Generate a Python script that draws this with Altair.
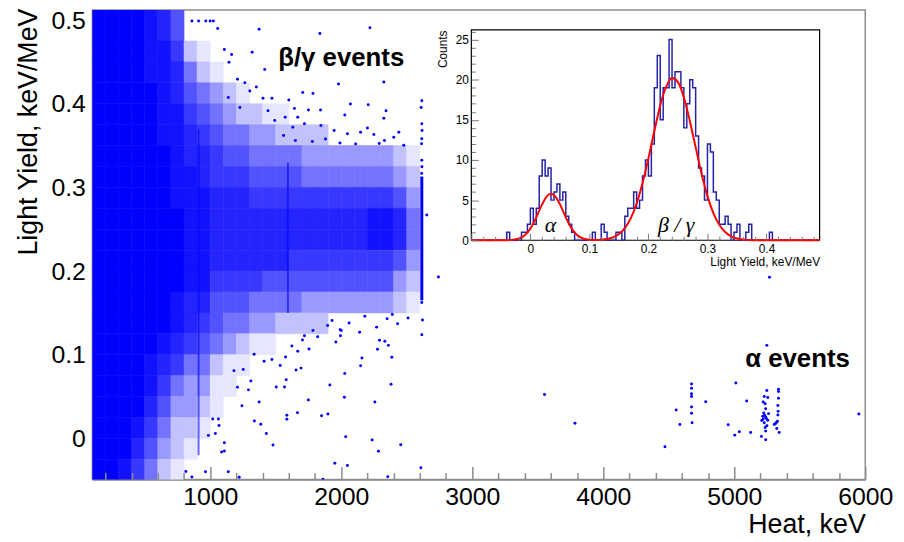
import altair as alt
import pandas as pd

FONT = "Liberation Sans"
BLUE = "#0000ff"

# ---------------- main plot axes ----------------
heat_domain = [100, 6000]
ly_domain = [-0.049, 0.512]
heat_major = [1000, 2000, 3000, 4000, 5000, 6000]
heat_minor = [v for v in range(200, 6000, 200) if v % 1000 != 0]
ly_ticks = [0, 0.1, 0.2, 0.3, 0.4, 0.5]

# ---------------- dense beta/gamma cloud: coverage level (0-9) read per cell ----------------
heat_edges = list(range(100, 2800, 100))  # 27 edges, 26 columns
ly_edges = [-0.05, -0.025, 0.0, 0.025, 0.05, 0.075, 0.1, 0.125, 0.15, 0.175, 0.2,
            0.225, 0.25, 0.275, 0.3, 0.325, 0.35, 0.375, 0.4, 0.425, 0.45, 0.475, 0.52]
density_rows = [  # top (0.475-0.52) to bottom (-0.05 to -0.025)
    "9999875",
    "999988621",
    "9999887421",
    "999998754321",
    "999998865432211",
    "999998876544332222",
    "99999987765544443333333210",
    "99999988766655554444444320",
    "99999988877766666666666530",
    "99999998877777777777788740",
    "99999998877777777777788740",
    "99999998877777766666666530",
    "99999998866665555555555320",
    "99999987755544443333333210",
    "999999876544332222",
    "99999876543211",
    "999987644211",
    "99998643311",
    "9999753321",
    "999864221",
    "99975321",
    "9986421",
]
# fraction of the cell covered by dots for each level
level_cover = [0.0, 0.10, 0.24, 0.40, 0.55, 0.68, 0.78, 0.86, 0.93, 1.0]

# ---------------- isolated events (Heat keV, Light Yield keV/MeV) ----------------
sparse_heat = [1335, 1411, 1471, 1534, 1575, 1580, 1567, 1504, 1655, 1693, 1623, 1668, 1754, 1704,
               1719, 1784, 1820, 1896, 1959, 1994, 1992, 2027, 1913, 2024, 2158, 2148, 2277, 2292,
               2333, 2360, 2386, 2380, 2257, 1749, 1666, 1585, 1585, 1850, 1898, 2034, 2236, 2284,
               2454, 1951, 2047, 1860, 2355, 2608, 1479, 1428, 1386, 1337, 1373, 1310, 1292, 1242,
               1208, 1252, 1181, 1221, 1138, 964, 860, 814, 1108, 1087, 1108, 1039, 986, 1067, 1062,
               1019,
               860, 911, 966, 999, 1024, 1057, 1373, 1837, 2219, 1320, 1108, 1163, 1143, 1416, 1979,
               2325, 1706, 1784, 1600, 1643, 1749, 1842, 2070, 2206, 2027, 2342, 2325, 1572, 1668,
               1208, 1264, 1302, 1352, 1403, 1471, 1138, 1226, 1441, 1492, 1630, 1719, 1845, 1946,
               2047, 2148, 2249, 2401, 2477, 1560, 1780, 1880, 2110, 2200, 2330, 2440, 1650, 1990,
               2290, 1930, 2060, 2180, 2270, 2350, 2430, 2510, 2000, 2140, 2390,
               2615, 2610, 2615, 2617, 2615, 2613, 2615, 2616, 2614, 2615, 2620, 2615, 2653, 2742]
sparse_ly = [0.1006, 0.0923, 0.0943, 0.0872, 0.0974, 0.0702, 0.0615, 0.0615, 0.0817, 0.084, 0.1104,
             0.1041, 0.1069, 0.1175, 0.1227, 0.129, 0.1215, 0.1349, 0.1152, 0.1227, 0.1298, 0.0777,
             0.0639, 0.0493, 0.0962, 0.0868, 0.1065, 0.1172, 0.116, 0.1112, 0.097, 0.0647, 0.0434,
             0.0458, 0.0308, 0.0276, 0.0229, 0.0272, 0.0292, 0.002, -0.002, -0.0154, -0.0075,
             -0.0296, -0.0323, -0.0489, -0.0458, -0.0351, -0.0079, 0.0059, 0.0169, 0.0209, 0.0434,
             0.0686, 0.058, 0.039, 0.0612, 0.0825, 0.0808, -0.0465, -0.0399, -0.0399, -0.0462,
             -0.0395, -0.015, -0.0162, -0.0051, 0.0059, 0.0036, 0.0154, 0.0233, 0.0233,
             0.499, 0.499, 0.499, 0.499, 0.499, 0.490, 0.489, 0.484, 0.491, 0.4615, 0.465, 0.4588,
             0.4497, 0.441, 0.4237, 0.426, 0.4134, 0.4122, 0.4044, 0.3945, 0.3925, 0.3925, 0.3996,
             0.3988, 0.3866, 0.3917, 0.3826, 0.3838, 0.3838, 0.4292, 0.4252, 0.4154, 0.4201,
             0.4067, 0.4067, 0.4075, 0.3956, 0.3917, 0.3799, 0.372, 0.376, 0.374, 0.368, 0.3641,
             0.366, 0.3633, 0.3601, 0.3503, 0.362, 0.355, 0.358, 0.352, 0.371, 0.356, 0.366, 0.356,
             0.353, 0.3525, 0.141, 0.138, 0.146, 0.133, 0.143, 0.137, 0.144, 0.129, 0.127, 0.148,
             0.4036, 0.3956, 0.376, 0.368, 0.3582, 0.3523, 0.3325, 0.3246, 0.3168, 0.1625, 0.1416,
             0.1239, 0.267, 0.1929]

alpha_heat = [3552, 3784, 4471, 4557, 4585, 4674, 4674, 4674, 4674, 4674, 4674, 4678, 4782, 5012,
              4954, 5004, 5039, 5095, 5125, 5249, 5229, 5256, 5221, 5236, 5240, 5225, 5232, 5218,
              5240, 5221, 5245, 5210, 5256, 5229, 5249, 5236, 5240, 5207, 5240, 5262, 5338, 5338,
              5338, 5333, 5335, 5333, 5330, 5322, 5314, 5305, 5325, 5343, 5951, 5269, 5249]
alpha_ly = [0.0525, 0.0181, -0.0099, 0.034, 0.0166, 0.0651, 0.06, 0.0533, 0.0501, 0.0375, 0.030,
            0.0186, 0.0438, 0.0663, 0.0162, 0.0039, 0.0079, 0.0446, 0.0071, 0.0572, 0.0501, 0.0489,
            0.0434, 0.0414, 0.0355, 0.0304, 0.0276, 0.0264, 0.0256, 0.0233, 0.0237, 0.0213, 0.0217,
            0.0186, 0.015, 0.013, 0.0087, 0.0024, -0.0016, 0.0296, 0.0588, 0.056, 0.0481, 0.0394,
            0.0323, 0.028, 0.0205, 0.0189, 0.0174, 0.0166, 0.0118, 0.0071, 0.0292, 0.1925, 0.1112]

# gamma lines seen as vertical stripes
line_heat = [911, 1593]
line_lo = [-0.02, 0.15]
line_hi = [0.37, 0.33]
tl_heat = [2615]
tl_lo = [0.165]
tl_hi = [0.313]

ann_text = ["β/γ events", "α events"]
ann_heat = [2000, 5483]
ann_ly = [0.4545, 0.095]

# ---------------- inset histogram ----------------
inset_x_domain = [-0.1, 0.49]
inset_y_domain = [0, 26.2]
bin_width = 0.005
hist_first = -0.04
hist_counts = [1, 0, 0, 0, 0, 1, 1, 2,            # -0.040 .. -0.005
               4, 2, 4, 8, 10, 8, 9, 5, 6, 7, 5, 6, 3, 2, 1,   # 0.000 .. 0.070
               0, 0, 0, 0, 0, 0, 1, 0, 0, 2, 1, 0, 0, 0, 1, 1, 0,   # 0.075 .. 0.155
               3, 4, 4, 6, 4, 5, 8, 10, 8, 12,    # 0.160 .. 0.205
               19, 23, 15, 19, 19, 25, 19, 21, 21, 19, 14, 17, 20, 19, 13, 9, 8, 5,  # 0.210 .. 0.295
               12, 11, 6, 5, 2, 2, 3, 2, 0, 1, 2, 0, 0, 1, 2, 0, 0, 0, 0, 0, 0, 1]  # 0.300 .. 0.405
fit_ly = [-0.1, -0.05, -0.04, -0.03, -0.02, -0.01, 0.0, 0.01, 0.02, 0.03, 0.035, 0.04, 0.05, 0.06,
          0.07, 0.08, 0.09, 0.10, 0.11, 0.12, 0.13, 0.14, 0.15, 0.16, 0.17, 0.18, 0.19, 0.20, 0.21,
          0.22, 0.23, 0.24, 0.25, 0.26, 0.27, 0.28, 0.29, 0.30, 0.31, 0.32, 0.33, 0.34, 0.35, 0.36,
          0.37, 0.38, 0.40, 0.49]
fit_counts = [0, 0, 0.01, 0.05, 0.19, 0.58, 1.45, 2.85, 4.5, 5.64, 5.8, 5.64, 4.5, 2.85, 1.45,
              0.58, 0.19, 0.06, 0.03, 0.07, 0.16, 0.37, 0.77, 1.51, 2.73, 4.58, 7.12, 10.2, 13.6,
              16.8, 19.1, 20.2, 19.7, 17.8, 14.9, 11.6, 8.3, 5.5, 3.39, 1.93, 1.02, 0.5, 0.22, 0.09,
              0.04, 0.01, 0, 0]
inset_labels = ["α", "β / γ"]
inset_label_ly = [0.034, 0.247]
inset_label_n = [1.9, 1.9]
inset_x_major = [-0.1, 0, 0.1, 0.2, 0.3, 0.4]
inset_x_labels = [0, 0.1, 0.2, 0.3, 0.4]
inset_x_minor = [round(-0.1 + 0.02 * i, 3) for i in range(30) if i % 5 != 0]
inset_y_major = [0, 5, 10, 15, 20, 25]
inset_y_minor = [v for v in range(1, 27) if v % 5 != 0]

# ---------------- tables ----------------
cells = []
nrows = len(density_rows)
for r, s in enumerate(density_rows):
    s = (s + "0" * 26)[:26]
    lo, hi = ly_edges[nrows - 1 - r], ly_edges[nrows - r]
    for c, ch in enumerate(s):
        lvl = int(ch)
        if lvl:
            cells.append(dict(h0=heat_edges[c], h1=heat_edges[c + 1], l0=lo, l1=hi, level=lvl))
cells_df = pd.DataFrame(cells)
pts_df = pd.DataFrame({"heat": sparse_heat + alpha_heat, "ly": sparse_ly + alpha_ly})
lines_df = pd.DataFrame({"heat": line_heat, "lo": line_lo, "hi": line_hi})
tl_df = pd.DataFrame({"heat": tl_heat, "lo": tl_lo, "hi": tl_hi})
ann_df = pd.DataFrame({"t": ann_text, "heat": ann_heat, "ly": ann_ly})

n_all = int(round((inset_x_domain[1] - inset_x_domain[0]) / bin_width))
edges = [round(inset_x_domain[0] + i * bin_width, 4) for i in range(n_all + 1)]
first_i = int(round((hist_first - inset_x_domain[0]) / bin_width))
counts = [0] * (n_all + 1)
for k, v in enumerate(hist_counts):
    counts[first_i + k] = v
hist_df = pd.DataFrame({"edge": edges, "n": counts})
fit_df = pd.DataFrame({"ly": fit_ly, "n": fit_counts})
frame_df = pd.DataFrame({"x0": [inset_x_domain[0]], "x1": [inset_x_domain[1]],
                         "y0": [inset_y_domain[0]], "y1": [inset_y_domain[1]]})
ilab_df = pd.DataFrame({"t": inset_labels, "ly": inset_label_ly, "n": inset_label_n})


def mix(c):
    v = int(round(255 * (1 - c)))
    return "#%02x%02xff" % (v, v)


lvl_colors = [mix(c) for c in level_cover]

# ---------------- geometry ----------------
W, H = 779, 473
IX0, IX1 = 382, 733   # inset frame, px from plot left
IY0, IY1 = 20, 232    # inset frame, px from plot top

main_x = alt.Scale(domain=heat_domain, nice=False, zero=False)
main_y = alt.Scale(domain=ly_domain, nice=False, zero=False)
ins_x = alt.Scale(domain=inset_x_domain, range=[IX0, IX1], nice=False, zero=False)
ins_y = alt.Scale(domain=inset_y_domain, range=[IY1, IY0], nice=False, zero=False)

ax_main_x = alt.Axis(orient="bottom", values=heat_major, format="d", labelFont=FONT,
                     labelFontSize=25, labelColor="black", labelPadding=5, labelFlush=False,
                     ticks=False, domain=True, domainColor="#8c8c8c", domainWidth=1.5, grid=False,
                     title="Heat, keV", titleFont=FONT, titleFontSize=27, titleFontWeight="normal",
                     titleColor="black", titleAlign="right", titleBaseline="alphabetic",
                     titleX=W, titleY=54)
ax_main_y = alt.Axis(orient="left", values=ly_ticks, format=".1~f", labelFont=FONT,
                     labelFontSize=25, labelColor="black", labelPadding=7, ticks=False,
                     domain=False, grid=False, title="Light Yield, keV/MeV", titleFont=FONT,
                     titleFontSize=27, titleFontWeight="normal", titleColor="black",
                     titleAngle=270, titleAlign="right", titleBaseline="alphabetic",
                     titleX=-56, titleY=-2)
ax_x_major = alt.Axis(orient="top", offset=-H, values=heat_major, labels=False, domain=False,
                      grid=False, ticks=True, tickSize=13, tickColor="#8c8c8c", tickWidth=1.5,
                      title=None, zindex=1)
ax_x_minor = alt.Axis(orient="top", offset=-H, values=heat_minor, labels=False, domain=False,
                      grid=False, ticks=True, tickSize=7, tickColor="#8c8c8c", tickWidth=1.5,
                      title=None, zindex=1)

ax_ix_labels = alt.Axis(orient="bottom", offset=-(H - IY1), values=inset_x_labels, format=".1~f",
                        labelFont=FONT, labelFontSize=12, labelColor="black", labelPadding=3,
                        labelFlush=False, ticks=False, domain=False, grid=False,
                        title="Light Yield, keV/MeV", titleFont=FONT, titleFontSize=12,
                        titleFontWeight="normal", titleColor="black", titleAlign="right",
                        titleBaseline="alphabetic", titleX=IX1, titleY=25, zindex=1)
ax_iy_labels = alt.Axis(orient="left", offset=-IX0, values=inset_y_major, format="d",
                        labelFont=FONT, labelFontSize=12, labelColor="black", labelPadding=3,
                        ticks=False, domain=False, grid=False, title="Counts", titleFont=FONT,
                        titleFontSize=12, titleFontWeight="normal", titleColor="black",
                        titleAngle=270, titleAlign="right", titleBaseline="alphabetic",
                        titleX=-25, titleY=IY0, zindex=1)
ax_ix_major = alt.Axis(orient="top", offset=-IY1, values=inset_x_major, labels=False,
                       domain=False, grid=False, tickSize=7, tickColor="#777777", tickWidth=1,
                       title=None, zindex=1)
ax_ix_minor = alt.Axis(orient="top", offset=-IY1, values=inset_x_minor, labels=False,
                       domain=False, grid=False, tickSize=4, tickColor="#777777", tickWidth=1,
                       title=None, zindex=1)
ax_iy_major = alt.Axis(orient="right", offset=IX0 - W, values=inset_y_major, labels=False,
                       domain=False, grid=False, tickSize=7, tickColor="#777777", tickWidth=1,
                       title=None, zindex=1)
ax_iy_minor = alt.Axis(orient="right", offset=IX0 - W, values=inset_y_minor, labels=False,
                       domain=False, grid=False, tickSize=4, tickColor="#777777", tickWidth=1,
                       title=None, zindex=1)

lvl_scale = dict(domain=list(range(10)), range=lvl_colors, interpolate="rgb")

cloud = alt.Chart(cells_df).mark_rect(strokeWidth=0.6, clip=True).encode(
    x=alt.X("h0:Q", scale=main_x, axis=ax_main_x),
    x2="h1:Q",
    y=alt.Y("l0:Q", scale=main_y, axis=ax_main_y),
    y2="l1:Q",
    fill=alt.Fill("level:Q", scale=alt.Scale(**lvl_scale), legend=None),
    stroke=alt.Stroke("level:Q", scale=alt.Scale(**lvl_scale), legend=None),
)
stripes = alt.Chart(lines_df).mark_rule(color=BLUE, strokeWidth=2, opacity=0.6).encode(
    x=alt.X("heat:Q", scale=main_x, axis=ax_x_major),
    y=alt.Y("lo:Q", scale=main_y, axis=None),
    y2="hi:Q",
)
line2615 = alt.Chart(tl_df).mark_rule(color=BLUE, strokeWidth=3).encode(
    x=alt.X("heat:Q", scale=main_x, axis=ax_x_minor),
    y=alt.Y("lo:Q", scale=main_y, axis=None),
    y2="hi:Q",
)
points = alt.Chart(pts_df).mark_circle(size=9, color=BLUE, opacity=1, clip=True).encode(
    x=alt.X("heat:Q", scale=main_x, axis=None),
    y=alt.Y("ly:Q", scale=main_y, axis=None),
)
ann = alt.Chart(ann_df).mark_text(font=FONT, fontSize=26, fontWeight="bold", color="black").encode(
    x=alt.X("heat:Q", scale=main_x, axis=None),
    y=alt.Y("ly:Q", scale=main_y, axis=None),
    text="t:N",
)

frame = alt.Chart(frame_df).mark_rect(fill="white", stroke="black", strokeWidth=1.2).encode(
    x=alt.X("x0:Q", scale=ins_x, axis=ax_ix_minor),
    x2="x1:Q",
    y=alt.Y("y0:Q", scale=ins_y, axis=ax_iy_minor),
    y2="y1:Q",
)
hist = alt.Chart(hist_df).mark_line(interpolate="step-after", color="#2323a8", strokeWidth=1.5).encode(
    x=alt.X("edge:Q", scale=ins_x, axis=ax_ix_labels),
    y=alt.Y("n:Q", scale=ins_y, axis=ax_iy_labels),
)
fit = alt.Chart(fit_df).mark_line(interpolate="monotone", color="#ff0000", strokeWidth=2).encode(
    x=alt.X("ly:Q", scale=ins_x, axis=ax_ix_major),
    y=alt.Y("n:Q", scale=ins_y, axis=ax_iy_major),
)
ilab = alt.Chart(ilab_df).mark_text(font="Liberation Serif", fontStyle="italic", fontSize=22,
                                    color="black").encode(
    x=alt.X("ly:Q", scale=ins_x, axis=None),
    y=alt.Y("n:Q", scale=ins_y, axis=None),
    text="t:N",
)

chart = alt.layer(cloud, stripes, line2615, points, ann, frame, hist, fit, ilab).resolve_scale(
    x="independent", y="independent", fill="independent", stroke="independent"
).resolve_axis(x="independent", y="independent").properties(
    width=W, height=H,
    padding={"left": 85, "top": 0, "right": 31, "bottom": 60},
    autosize=alt.AutoSizeParams(type="none"),
    background="white",
).configure_view(stroke="#8c8c8c", strokeWidth=1.5)

chart.save("out.html", embed_options={"renderer": "svg", "actions": False})
